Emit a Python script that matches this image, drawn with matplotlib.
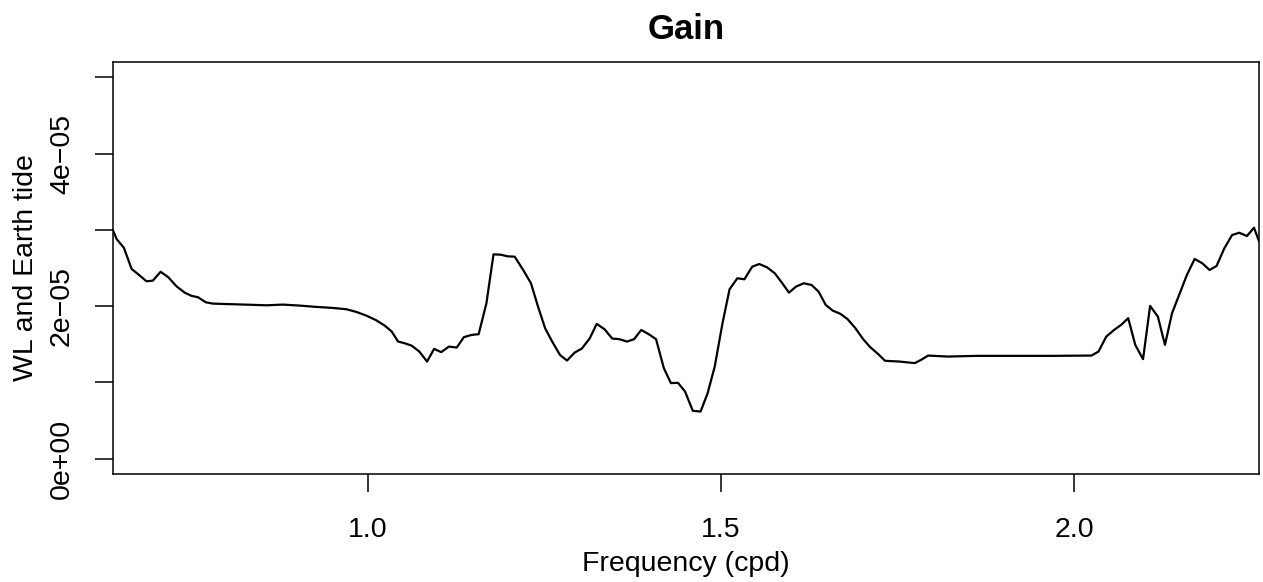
import numpy as np
import matplotlib.pyplot as plt

# frequency (cpd) and gain between water level and Earth tide
freq = [0.639, 0.645, 0.655, 0.666, 0.675, 0.687, 0.696, 0.707, 0.718, 0.729,
        0.741, 0.751, 0.760, 0.771, 0.781, 0.809, 0.857, 0.880, 0.904, 0.927,
        0.951, 0.970, 0.984, 0.998, 1.012, 1.024, 1.034, 1.043, 1.052, 1.062,
        1.073, 1.084, 1.094, 1.104, 1.115, 1.126, 1.136, 1.147, 1.157, 1.168,
        1.178, 1.188, 1.198, 1.208, 1.220, 1.231, 1.241, 1.251, 1.261, 1.272,
        1.282, 1.293, 1.303, 1.314, 1.324, 1.335, 1.346, 1.356, 1.367, 1.377,
        1.387, 1.397, 1.408, 1.419, 1.429, 1.439, 1.449, 1.460, 1.471, 1.481,
        1.491, 1.502, 1.512, 1.523, 1.533, 1.544, 1.554, 1.565, 1.576, 1.586,
        1.596, 1.606, 1.617, 1.628, 1.638, 1.648, 1.658, 1.669, 1.679, 1.690,
        1.701, 1.711, 1.722, 1.732, 1.752, 1.774, 1.783, 1.793, 1.821, 1.861,
        1.918, 1.965, 2.024, 2.034, 2.045, 2.056, 2.066, 2.076, 2.086, 2.097,
        2.107, 2.118, 2.128, 2.138, 2.149, 2.159, 2.170, 2.181, 2.191, 2.201,
        2.212, 2.223, 2.233, 2.244, 2.254, 2.261]
gain_e5 = [3.006, 2.876, 2.766, 2.487, 2.420, 2.326, 2.334, 2.450, 2.378, 2.264,
           2.177, 2.134, 2.116, 2.050, 2.033, 2.025, 2.011, 2.020, 2.007, 1.990,
           1.976, 1.959, 1.924, 1.876, 1.815, 1.745, 1.667, 1.536, 1.514, 1.483,
           1.405, 1.274, 1.440, 1.397, 1.470, 1.457, 1.593, 1.623, 1.632, 2.038,
           2.679, 2.674, 2.653, 2.648, 2.474, 2.300, 1.994, 1.711, 1.536, 1.361,
           1.287, 1.392, 1.444, 1.575, 1.767, 1.698, 1.575, 1.567, 1.536, 1.567,
           1.688, 1.636, 1.567, 1.187, 0.991, 0.995, 0.881, 0.628, 0.619, 0.860,
           1.208, 1.776, 2.221, 2.365, 2.352, 2.517, 2.552, 2.509, 2.430, 2.308,
           2.177, 2.256, 2.300, 2.277, 2.190, 2.016, 1.941, 1.898, 1.829, 1.711,
           1.567, 1.462, 1.374, 1.283, 1.274, 1.253, 1.296, 1.352, 1.339, 1.348,
           1.348, 1.348, 1.352, 1.405, 1.601, 1.688, 1.754, 1.842, 1.492, 1.305,
           2.003, 1.863, 1.492, 1.907, 2.169, 2.408, 2.618, 2.561, 2.474, 2.526,
           2.758, 2.932, 2.962, 2.919, 3.028, 2.853]
gain = np.array(gain_e5) * 1e-5

x_ticks = [1.0, 1.5, 2.0]
x_labels = ["1.0", "1.5", "2.0"]
y_ticks = [0, 1e-5, 2e-5, 3e-5, 4e-5, 5e-5]
y_labels = ["0e+00", "", "2e\u221205", "", "4e\u221205", ""]

plt.rcParams['font.family'] = ['Liberation Sans', 'DejaVu Sans']

fig = plt.figure(figsize=(12.63, 5.82), dpi=100)
ax = fig.add_axes([0.0891, 0.1856, 0.9077, 0.7079])

ax.plot(freq, gain, color="black", lw=1.6)

ax.set_xlim(freq[0], freq[-1])
ax.set_ylim(-0.2e-5, 5.2e-5)

ax.set_xticks(x_ticks)
ax.set_xticklabels(x_labels)
ax.set_yticks(y_ticks)
ax.set_yticklabels(y_labels, rotation=90, va="center")

ax.tick_params(axis="both", direction="out", length=13, width=1.1, labelsize=20.5)
ax.tick_params(axis="x", pad=18)
ax.tick_params(axis="y", pad=14)

for s in ax.spines.values():
    s.set_linewidth(1.1)

ax.set_title("Gain", fontsize=25, fontweight="bold", pad=16.5)
ax.set_xlabel("Frequency (cpd)", fontsize=20.5)
ax.set_ylabel("WL and Earth tide", fontsize=20.5)
ax.xaxis.set_label_coords(0.5, -0.188)
ax.yaxis.set_label_coords(-0.0641, 0.5)

fig.savefig("out.png", dpi=100)
